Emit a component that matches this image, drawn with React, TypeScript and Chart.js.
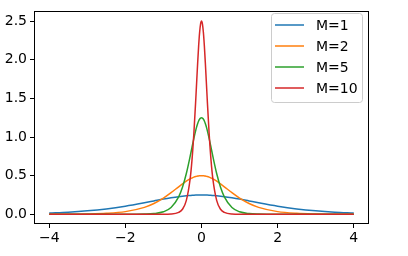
import React, { useEffect, useRef } from "react";
import { Chart, registerables } from "chart.js";

Chart.register(...registerables);

const xs = [
  -4, -3.5, -3, -2.5, -2, -1.5, -1.25, -1, -0.8, -0.6, -0.5, -0.4, -0.3, -0.25, -0.2, -0.15, -0.125, -0.1, -0.075, -0.05, -0.025,
  0,
  0.025, 0.05, 0.075, 0.1, 0.125, 0.15, 0.2, 0.25, 0.3, 0.4, 0.5, 0.6, 0.8, 1, 1.25, 1.5, 2, 2.5, 3, 3.5, 4,
];

const m1 = [
  0.018, 0.028, 0.045, 0.07, 0.105, 0.149, 0.173, 0.197, 0.214, 0.229, 0.235, 0.24, 0.244, 0.246, 0.248, 0.249, 0.249, 0.249, 0.25, 0.25, 0.25,
  0.25,
  0.25, 0.25, 0.25, 0.249, 0.249, 0.249, 0.248, 0.246, 0.244, 0.24, 0.235, 0.229, 0.214, 0.197, 0.173, 0.149, 0.105, 0.07, 0.045, 0.028, 0.018,
];

const m2 = [
  0.001, 0.002, 0.005, 0.013, 0.035, 0.09, 0.14, 0.21, 0.28, 0.356, 0.393, 0.428, 0.458, 0.47, 0.481, 0.489, 0.492, 0.495, 0.497, 0.499, 0.5,
  0.5,
  0.5, 0.499, 0.497, 0.495, 0.492, 0.489, 0.481, 0.47, 0.458, 0.428, 0.393, 0.356, 0.28, 0.21, 0.14, 0.09, 0.035, 0.013, 0.005, 0.002, 0.001,
];

const m5 = [
  0, 0, 0, 0, 0, 0.003, 0.01, 0.033, 0.088, 0.226, 0.351, 0.525, 0.746, 0.866, 0.983, 1.089, 1.136, 1.175, 1.207, 1.231, 1.245,
  1.25,
  1.245, 1.231, 1.207, 1.175, 1.136, 1.089, 0.983, 0.866, 0.746, 0.525, 0.351, 0.226, 0.088, 0.033, 0.01, 0.003, 0, 0, 0, 0, 0,
];

const m10 = [
  0, 0, 0, 0, 0, 0, 0, 0, 0.003, 0.025, 0.066, 0.177, 0.452, 0.701, 1.05, 1.492, 1.731, 1.966, 2.179, 2.35, 2.461,
  2.5,
  2.461, 2.35, 2.179, 1.966, 1.731, 1.492, 1.05, 0.701, 0.452, 0.177, 0.066, 0.025, 0.003, 0, 0, 0, 0, 0, 0, 0, 0,
];

const seriesLabels = ["M=1", "M=2", "M=5", "M=10"];
const seriesValues = [m1, m2, m5, m10];
const seriesColors = ["#1f77b4", "#ff7f0e", "#2ca02c", "#d62728"];

const xTicks = [-4, -2, 0, 2, 4];
const yTicks = [0, 0.5, 1, 1.5, 2, 2.5];

const FONT = "DejaVu Sans";

const frame = {
  id: "frame",
  afterDatasetsDraw(chart: any) {
    const { ctx, chartArea: a } = chart;
    ctx.save();
    ctx.strokeStyle = "#000";
    ctx.lineWidth = 1;
    ctx.strokeRect(Math.round(a.left) + 0.5, Math.round(a.top) + 0.5, Math.round(a.right - a.left) - 1, Math.round(a.bottom - a.top) - 1);
    ctx.restore();
  },
};

const legendBox = {
  id: "legendBox",
  afterDraw(chart: any) {
    const { ctx } = chart;
    const bx = 271, by = 13, bw = 91, bh = 89;
    ctx.save();
    ctx.beginPath();
    ctx.roundRect(bx + 0.5, by + 0.5, bw, bh, 3);
    ctx.fillStyle = "rgba(255,255,255,0.8)";
    ctx.fill();
    ctx.strokeStyle = "#cccccc";
    ctx.lineWidth = 1;
    ctx.stroke();
    ctx.font = `14px "${FONT}"`;
    ctx.textBaseline = "middle";
    ctx.textAlign = "left";
    seriesLabels.forEach((lab, i) => {
      const y = 25 + i * 21;
      ctx.beginPath();
      ctx.moveTo(275, y);
      ctx.lineTo(304, y);
      ctx.strokeStyle = seriesColors[i];
      ctx.lineWidth = 1.5;
      ctx.stroke();
      ctx.fillStyle = "#000";
      ctx.fillText(lab, 316, y + 1);
    });
    ctx.restore();
  },
};

export default function App() {
  const ref = useRef<HTMLCanvasElement>(null);
  useEffect(() => {
    document.body.style.margin = "0";
    const chart = new Chart(ref.current!, {
      type: "line",
      data: {
        datasets: seriesLabels.map((label, i) => ({
          label,
          data: xs.map((x, j) => ({ x, y: seriesValues[i][j] })),
          borderColor: seriesColors[i],
          backgroundColor: seriesColors[i],
          borderWidth: 1.5,
          pointRadius: 0,
          cubicInterpolationMode: "monotone" as const,
          fill: false,
          order: 4 - i,
        })),
      },
      options: {
        responsive: false,
        animation: false,
        layout: { padding: { left: 0, right: 39, top: 6, bottom: 0 } },
        plugins: { legend: { display: false }, tooltip: { enabled: false } },
        scales: {
          x: {
            type: "linear",
            min: -4.4,
            max: 4.4,
            afterBuildTicks: (s: any) => {
              s.ticks = xTicks.map((v) => ({ value: v }));
            },
            afterFit: (s: any) => {
              s.height = 32;
            },
            border: { display: false },
            grid: { drawOnChartArea: false, drawTicks: true, tickLength: 4, color: "#000", lineWidth: 1 },
            ticks: {
              color: "#000",
              font: { family: FONT, size: 14 },
              padding: 2,
              maxRotation: 0,
              callback: (v: any) => (Number(v) < 0 ? "\u2212" + Math.abs(Number(v)) : String(v)),
            },
          },
          y: {
            type: "linear",
            min: -0.125,
            max: 2.625,
            afterBuildTicks: (s: any) => {
              s.ticks = yTicks.map((v) => ({ value: v }));
            },
            afterFit: (s: any) => {
              s.width = 34;
            },
            border: { display: false },
            grid: { drawOnChartArea: false, drawTicks: true, tickLength: 4, color: "#000", lineWidth: 1 },
            ticks: {
              color: "#000",
              font: { family: FONT, size: 14 },
              padding: 3,
              callback: (v: any) => Number(v).toFixed(1),
            },
          },
        },
      },
      plugins: [frame, legendBox],
    });
    return () => chart.destroy();
  }, []);
  return <canvas ref={ref} width={408} height={256} style={{ display: "block" }} />;
}
